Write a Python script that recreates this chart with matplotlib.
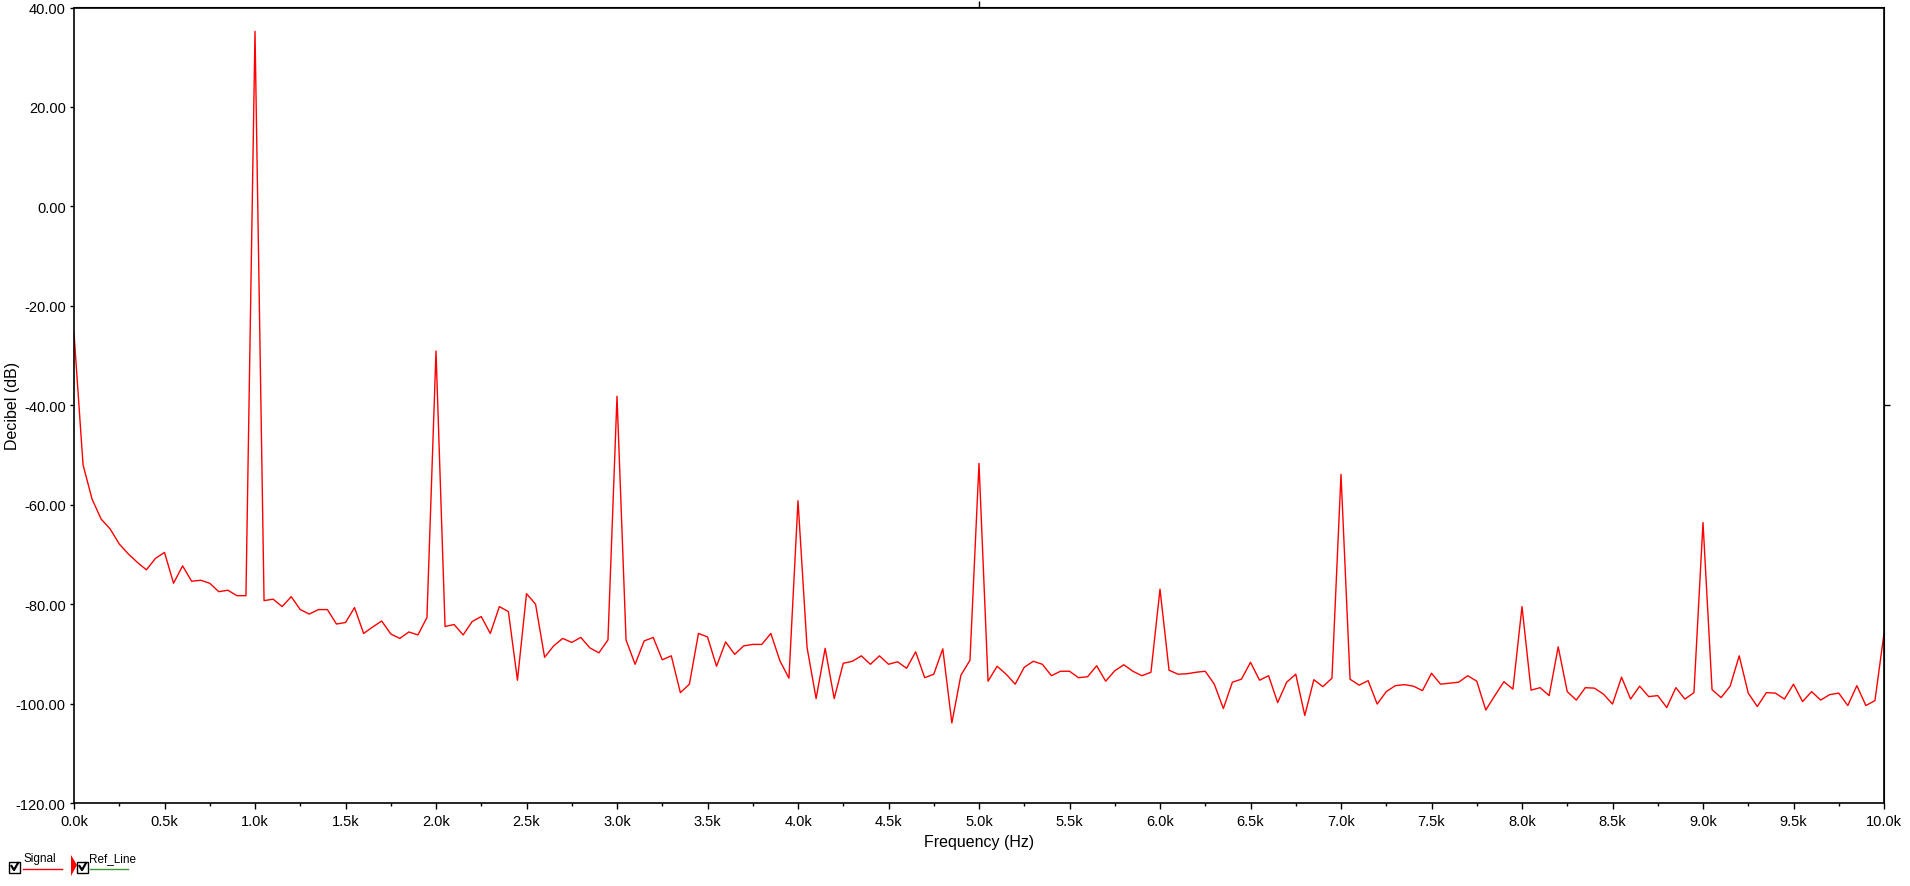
import numpy as np
import matplotlib.pyplot as plt
from matplotlib.lines import Line2D
from matplotlib.patches import Rectangle, Polygon
from matplotlib.ticker import FuncFormatter, MultipleLocator

# FFT bins, 50 Hz apart
freq_hz = np.arange(0, 10001, 50)

signal_db = [
    -25.5, -52.0, -58.9, -62.9, -64.9, -67.9, -69.9, -71.6, -73.1, -70.8,
    -69.6, -75.8, -72.3, -75.4, -75.2, -75.8, -77.5, -77.2, -78.3, -78.3,
    35.2, -79.3, -79.0, -80.5, -78.5, -81.1, -82.0, -81.1, -81.1, -84.0,
    -83.7, -80.7, -85.9, -84.6, -83.4, -86.0, -86.9, -85.6, -86.2, -82.7,
    -29.1, -84.5, -84.1, -86.2, -83.5, -82.5, -85.9, -80.5, -81.5, -95.3,
    -77.9, -80.0, -90.7, -88.4, -86.9, -87.7, -86.7, -88.8, -89.8, -87.2,
    -38.2, -87.2, -92.1, -87.4, -86.7, -91.2, -90.4, -97.8, -96.1, -85.9,
    -86.6, -92.5, -87.6, -90.1, -88.4, -88.1, -88.1, -85.9, -91.4, -94.9,
    -59.2, -88.7, -99.0, -88.9, -99.0, -91.9, -91.5, -90.4, -92.1, -90.4,
    -92.1, -91.6, -92.9, -89.6, -94.8, -94.1, -89.0, -103.9, -94.3, -91.3,
    -51.7, -95.5, -92.5, -94.1, -96.1, -92.7, -91.5, -92.1, -94.4, -93.5,
    -93.5, -94.8, -94.6, -92.4, -95.5, -93.4, -92.2, -93.5, -94.4, -93.7,
    -77.0, -93.3, -94.1, -94.0, -93.7, -93.5, -96.1, -101.0, -95.7, -95.1,
    -91.7, -95.3, -94.4, -99.8, -95.7, -94.1, -102.4, -95.2, -96.6, -94.9,
    -53.9, -95.1, -96.3, -95.4, -100.1, -97.6, -96.4, -96.2, -96.5, -97.4,
    -93.9, -96.1, -95.9, -95.7, -94.4, -95.5, -101.3, -98.4, -95.6, -97.1,
    -80.5, -97.3, -96.8, -98.4, -88.6, -97.6, -99.3, -96.8, -96.9, -98.1,
    -100.1, -94.7, -99.1, -96.5, -98.6, -98.4, -100.8, -96.8, -99.1, -97.8,
    -63.6, -97.2, -98.8, -96.5, -90.4, -97.9, -100.6, -97.8, -97.9, -99.1,
    -96.1, -99.6, -97.6, -99.3, -98.2, -97.9, -100.4, -96.4, -100.4, -99.4,
    -85.9,
]

legend_names = ["Signal", "Ref_Line"]
legend_colors = ["#ff0000", "#3c9a3c"]

plt.rcParams['font.family'] = ['Liberation Sans', 'DejaVu Sans']

W, H = 1910, 887
fig = plt.figure(figsize=(W / 100, H / 100), dpi=100)
ax = fig.add_axes([74 / W, 1 - 804 / H, (1884 - 74) / W, (804 - 8.5) / H])

ax.plot(freq_hz, signal_db, color=legend_colors[0], lw=1.0)

ax.set_xlim(0, 10000)
ax.set_ylim(-120, 40)

ax.xaxis.set_major_locator(MultipleLocator(500))
ax.xaxis.set_minor_locator(MultipleLocator(250))
ax.xaxis.set_major_formatter(FuncFormatter(lambda v, p: f"{v / 1000:.1f}k"))
ax.yaxis.set_major_locator(MultipleLocator(20))
ax.yaxis.set_major_formatter(FuncFormatter(lambda v, p: f"{v:.2f}"))

ax.tick_params(axis='x', which='major', length=4, width=1, labelsize=10.5, pad=4)
ax.tick_params(axis='x', which='minor', length=2, width=1)
ax.tick_params(axis='y', which='major', length=3, width=1, labelsize=10.5, pad=3)

fig.canvas.draw()
xl = ax.get_xticklabels()
xl[0].set_horizontalalignment('left')
xl[-1].set_horizontalalignment('right')
yl = ax.get_yticklabels()
yl[0].set_verticalalignment('bottom')
yl[-1].set_verticalalignment('top')

for s in ax.spines.values():
    s.set_linewidth(1.2)
    s.set_color('black')

# small ticks on top and right frame
top = ax.secondary_xaxis('top')
top.set_xticks([5000])
top.set_xticklabels([])
top.tick_params(length=4, width=1)
right = ax.secondary_yaxis('right')
right.set_yticks([-40])
right.set_yticklabels([])
right.tick_params(length=4, width=1)

ax.set_xlabel("Frequency (Hz)", fontsize=11.5, labelpad=4)
ax.set_ylabel("Decibel (dB)", fontsize=11.5)
ax.yaxis.set_label_coords(-62 / 1810, 0.5)
ax.yaxis.label.set_verticalalignment('center')

# legend strip at the bottom left
def checkbox(x0):
    fig.patches.append(Rectangle((x0 / W, 1 - 874 / H), 11 / W, 11 / H,
                                 transform=fig.transFigure, fill=False,
                                 edgecolor='black', lw=1))
    fig.lines.append(Line2D([(x0 + 2.5) / W, (x0 + 5) / W, (x0 + 9) / W],
                            [1 - 867 / H, 1 - 871 / H, 1 - 864 / H],
                            transform=fig.transFigure, color='black', lw=1.6))

checkbox(9)
fig.text(23 / W, 1 - 859 / H, legend_names[0], fontsize=8.5, va='center', ha='left')
fig.lines.append(Line2D([23 / W, 62 / W], [1 - 870 / H, 1 - 870 / H],
                        transform=fig.transFigure, color=legend_colors[0], lw=1))
fig.patches.append(Polygon([(71 / W, 1 - 856 / H), (71 / W, 1 - 877 / H), (77 / W, 1 - 866 / H)],
                           closed=True, transform=fig.transFigure,
                           facecolor=legend_colors[0], edgecolor='none'))
checkbox(77)
fig.text(89 / W, 1 - 859 / H, legend_names[1], fontsize=8.5, va='center', ha='left')
fig.lines.append(Line2D([90 / W, 128 / W], [1 - 870 / H, 1 - 870 / H],
                        transform=fig.transFigure, color=legend_colors[1], lw=1))

fig.savefig("out.png", dpi=100, facecolor='white')
